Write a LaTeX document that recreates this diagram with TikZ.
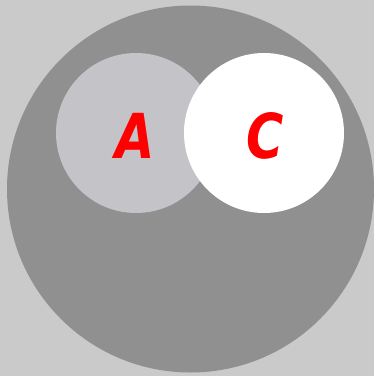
\documentclass[tikz,border=0pt]{standalone}
\usepackage{fontspec}
\newfontfamily\letterfont{DejaVu Sans}
\definecolor{bgc}{HTML}{CACACA}
\definecolor{bigc}{HTML}{909090}
\definecolor{ac}{HTML}{C4C4C8}
\begin{document}
\begin{tikzpicture}[x=1pt,y=-1pt,
  lettertext/.style={text=red,font=\letterfont\bfseries\itshape\fontsize{62}{62}\selectfont,inner sep=0pt,xscale=0.82}]
\fill[bgc] (0,0) rectangle (374,376);
\useasboundingbox (0,0) rectangle (374,376);
\fill[bigc] (190.5,189) circle[radius=183.5];
\fill[ac] (136,133) circle[radius=80];
\fill[white] (264,133) circle[radius=80];
\node[lettertext] (A) at (135,135.5) {A};
\node[lettertext] (C) at (265,135.5) {C};
\end{tikzpicture}
\end{document}
